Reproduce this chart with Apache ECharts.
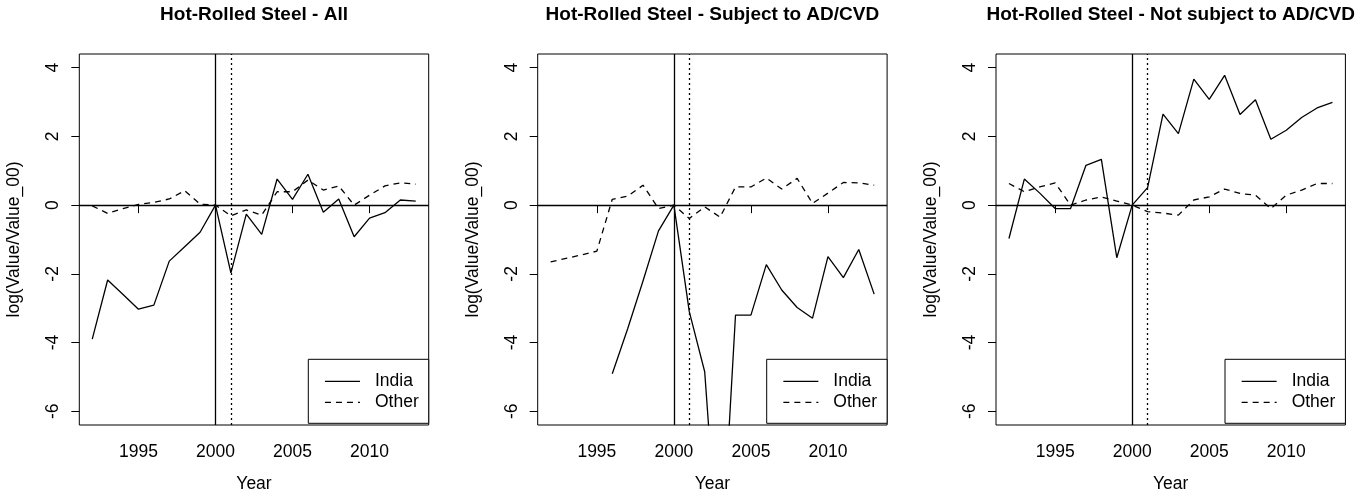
<!DOCTYPE html>
<html>
<head>
<meta charset="utf-8">
<script src="https://cdn.jsdelivr.net/npm/echarts@6/dist/echarts.min.js"></script>
<style>
  html, body { margin: 0; padding: 0; background: #fff; }
  #main { width: 1369px; height: 498px; }
</style>
</head>
<body>
<div id="main"></div>
<script>
// years on the x axis
var years = [1992, 1993, 1994, 1995, 1996, 1997, 1998, 1999, 2000, 2001, 2002,
             2003, 2004, 2005, 2006, 2007, 2008, 2009, 2010, 2011, 2012, 2013];

// log(Value/Value_00)
var indiaAll  = [-3.90, -2.18, -2.60, -3.03, -2.91, -1.63, -1.21, -0.79, 0, -1.97, -0.26,
                 -0.85, 0.76, 0.17, 0.90, -0.21, 0.18, -0.92, -0.38, -0.22, 0.15, 0.12];
var otherAll  = [-0.02, -0.24, -0.10, 0.02, 0.08, 0.18, 0.42, 0.03, 0, -0.31, -0.14,
                 -0.29, 0.39, 0.39, 0.73, 0.44, 0.56, 0.00, 0.29, 0.56, 0.65, 0.61];
var indiaSubj = [null, null, null, null, -4.91, -3.60, -2.20, -0.75, 0, -3.10, -4.85,
                 -11.1, -3.20, -3.20, -1.73, -2.47, -2.98, -3.29, -1.50, -2.11, -1.29, -2.59];
var otherSubj = [-1.65, -1.55, -1.45, -1.34, 0.17, 0.26, 0.58, -0.10, 0, -0.39, -0.05,
                 -0.35, 0.53, 0.53, 0.79, 0.47, 0.78, 0.05, 0.35, 0.66, 0.65, 0.58];
var indiaNot  = [-0.97, 0.76, 0.35, -0.10, -0.10, 1.16, 1.33, -1.53, 0, 0.51, 2.65,
                 2.08, 3.67, 3.08, 3.78, 2.64, 3.07, 1.92, 2.18, 2.55, 2.83, 2.99];
var otherNot  = [0.63, 0.39, 0.53, 0.65, 0.00, 0.15, 0.24, 0.12, 0, -0.19, -0.23,
                 -0.29, 0.15, 0.24, 0.47, 0.34, 0.29, -0.10, 0.29, 0.44, 0.63, 0.63];

var titles = ['Hot-Rolled Steel - All',
              'Hot-Rolled Steel - Subject to AD/CVD',
              'Hot-Rolled Steel - Not subject to AD/CVD'];
var xTicks = [1995, 2000, 2005, 2010];
var yTicks = [-6, -4, -2, 0, 2, 4];
var panels = [[indiaAll, otherAll], [indiaSubj, otherSubj], [indiaNot, otherNot]];

var FONT = '"Liberation Sans", Arial, Helvetica, sans-serif';
var gridLeft = [79.3, 537.7, 996];
var gridW = 349.4;

function pairs(vals) {
    return years.map(function (y, i) { return [y, vals[i]]; });
}

var option = {
    animation: false,
    backgroundColor: '#fff',
    textStyle: { fontFamily: FONT },
    title: [],
    grid: [],
    xAxis: [],
    yAxis: [],
    legend: [],
    series: []
};

for (var p = 0; p < 3; p++) {
    option.title.push({
        text: titles[p],
        left: gridLeft[p] + gridW / 2,
        top: 5,
        textAlign: 'center',
        padding: 0,
        textStyle: { fontFamily: FONT, fontSize: 19, fontWeight: 'bold', color: '#000' }
    });
    option.grid.push({
        left: gridLeft[p], top: 54, width: gridW, height: 371,
        show: true, borderColor: '#000', borderWidth: 1, backgroundColor: 'transparent'
    });
    option.xAxis.push({
        type: 'value', gridIndex: p, min: 1991.16, max: 2013.84,
        name: 'Year', nameLocation: 'middle', nameGap: 50,
        nameTextStyle: { fontFamily: FONT, fontSize: 17.5, color: '#000' },
        axisLine: { show: false },
        axisTick: { show: true, customValues: xTicks, length: 8, lineStyle: { color: '#000' } },
        axisLabel: {
            customValues: xTicks, margin: 18, fontFamily: FONT, fontSize: 17.5, color: '#000',
            formatter: function (v) { return String(v); }
        },
        splitLine: { show: false }
    });
    option.yAxis.push({
        type: 'value', gridIndex: p, min: -6.4, max: 4.4,
        name: 'log(Value/Value_00)', nameLocation: 'middle', nameGap: 56, nameRotate: 90,
        nameTextStyle: { fontFamily: FONT, fontSize: 17.5, color: '#000' },
        axisLine: { show: false },
        axisTick: { show: true, customValues: yTicks, length: 8, lineStyle: { color: '#000' } },
        axisLabel: { customValues: yTicks, rotate: 90, margin: 17, fontFamily: FONT, fontSize: 17.5, color: '#000' },
        splitLine: { show: false }
    });
    option.legend.push({
        data: ['India', 'Other'],
        orient: 'vertical',
        left: gridLeft[p] + 229,
        top: 359.3,
        width: 120,
        padding: [12, 10, 11, 16],
        itemWidth: 35,
        itemHeight: 14,
        itemGap: 1,
        borderColor: '#000',
        borderWidth: 1,
        borderRadius: 0,
        backgroundColor: '#fff',
        selectedMode: false,
        itemStyle: { opacity: 0 },
        lineStyle: { width: 1.3 },
        textStyle: { fontFamily: FONT, fontSize: 17.5, color: '#000', lineHeight: 20, padding: [0, 0, 0, 10] }
    });
    option.series.push({
        name: 'India', type: 'line', xAxisIndex: p, yAxisIndex: p,
        data: pairs(panels[p][0]),
        symbol: 'none', connectNulls: false, clip: true,
        lineStyle: { color: '#000', width: 1.3, type: 'solid' },
        itemStyle: { color: '#000' },
        markLine: {
            silent: true, symbol: 'none', label: { show: false },
            data: [
                { xAxis: 2000, lineStyle: { color: '#000', width: 1.3, type: 'solid' } },
                { xAxis: 2001, lineStyle: { color: '#000', width: 1.3, type: [2, 3] } },
                { yAxis: 0, lineStyle: { color: '#000', width: 1.3, type: 'solid' } }
            ]
        },
        z: 3
    });
    option.series.push({
        name: 'Other', type: 'line', xAxisIndex: p, yAxisIndex: p,
        data: pairs(panels[p][1]),
        symbol: 'none', clip: true,
        lineStyle: { color: '#000', width: 1.3, type: [6, 5] },
        itemStyle: { color: '#000' },
        z: 3
    });
}

var chart = echarts.init(document.getElementById('main'));
chart.setOption(option);
</script>
</body>
</html>
